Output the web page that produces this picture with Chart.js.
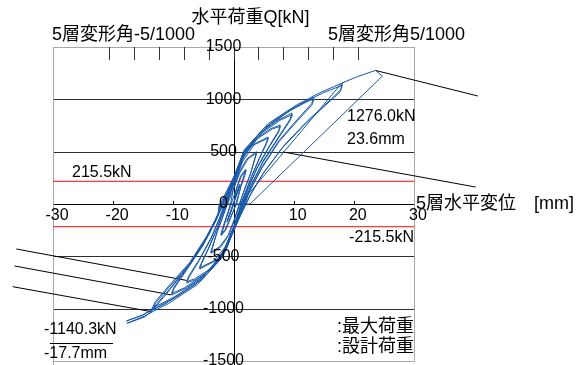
<!DOCTYPE html>
<html>
<head>
<meta charset="utf-8">
<script src="https://cdn.jsdelivr.net/npm/chart.js@4.4.1/dist/chart.umd.min.js"></script>
<style>
  html, body { margin: 0; padding: 0; background: #ffffff; }
  canvas { display: block; }
</style>
</head>
<body>
<canvas id="chart" width="586" height="365"></canvas>
<script>
// Load–displacement record of the 5th storey: [displacement mm, load kN]
const loop1mm = [[0,0],[0.5,110],[1.0,180],[0.7,120],[0.0,0],[-0.5,-90],[-1.0,-160],[-0.7,-100],[0.0,0],
                 [0.6,120],[1.1,190],[0.7,110],[-0.1,0],[-0.6,-100],[-1.1,-170],[-0.6,-90],[0.1,0]];
const loop2mm = [[0.5,150],[1.2,270],[2.0,330],[1.8,285],[1.2,170],[0.4,0],[-0.5,-140],[-1.3,-250],[-2.0,-300],[-1.8,-255],[-1.2,-140],[-0.4,0],
                 [0.5,145],[1.3,265],[2.1,322],[1.9,275],[1.2,160],[0.5,0],[-0.6,-140],[-1.4,-245],[-2.1,-294],[-1.9,-245],[-1.2,-125],[-0.5,0]];
const loop4mm = [[0.0,150],[0.9,300],[2.2,430],[3.8,500],[3.6,450],[2.9,300],[1.9,150],[1.0,0],
                 [0.2,-150],[-0.8,-300],[-2.1,-410],[-3.7,-470],[-3.5,-420],[-2.8,-280],[-1.9,-140],[-1.0,0],
                 [0.1,155],[1.1,305],[2.4,430],[3.9,492],[3.6,438],[2.8,285],[1.8,135],[1.0,0],
                 [0.1,-150],[-0.9,-300],[-2.3,-408],[-3.8,-462],[-3.5,-408],[-2.7,-262],[-1.8,-125],[-1.1,0]];
const loop6mm = [[0.0,200],[1.2,400],[3.0,560],[5.75,640],[5.5,590],[4.3,440],[2.9,250],[1.2,0],
                 [0.2,-200],[-1.0,-400],[-2.9,-540],[-5.6,-620],[-5.3,-570],[-4.1,-420],[-2.7,-230],[-1.2,0],
                 [0.2,205],[1.5,405],[3.4,565],[5.8,630],[5.5,578],[4.2,422],[2.8,232],[1.3,0],
                 [0.1,-205],[-1.3,-405],[-3.3,-545],[-5.7,-610],[-5.3,-558],[-4.0,-402],[-2.6,-212],[-1.3,0]];
const loop8mm = [[0.0,220],[1.4,450],[3.6,620],[6.2,720],[7.75,755],[7.5,700],[6.0,560],[4.0,360],[2.5,160],[1.4,0],
                 [0.2,-220],[-1.3,-450],[-3.6,-620],[-6.2,-720],[-7.75,-755],[-7.4,-700],[-5.8,-550],[-3.8,-340],[-2.4,-150],[-1.4,0],
                 [0.2,225],[1.7,455],[4.0,625],[6.5,718],[7.8,742],[7.5,688],[5.9,540],[3.9,340],[2.4,140],[1.5,0],
                 [0.0,-225],[-1.6,-455],[-4.0,-625],[-6.5,-716],[-7.8,-742],[-7.4,-686],[-5.7,-530],[-3.7,-320],[-2.3,-130],[-1.5,0]];
const loop10mm = [[0.0,230],[1.6,480],[4.2,670],[7.4,800],[9.7,869],[9.4,810],[7.6,650],[5.0,420],[3.0,190],[1.6,0],
                  [0.2,-230],[-1.6,-480],[-4.4,-670],[-7.8,-800],[-10.25,-869],[-9.9,-810],[-7.9,-640],[-5.1,-400],[-3.0,-170],[-1.7,0],
                  [0.2,235],[1.9,485],[4.6,675],[7.8,802],[9.8,855],[9.4,795],[7.5,632],[4.9,400],[2.9,172],[1.7,0],
                  [0.0,-235],[-1.9,-485],[-4.8,-675],[-8.2,-802],[-10.3,-856],[-9.9,-795],[-7.8,-622],[-5.0,-382],[-2.9,-152],[-1.8,0]];
const loop13mm = [[0.0,240],[1.7,500],[5.0,720],[9.0,890],[12.0,980],[13.3,1020],[13.0,960],[10.8,820],[7.6,610],[4.8,360],[2.7,130],[1.8,0],
                  [0.1,-240],[-1.8,-500],[-5.2,-720],[-9.3,-880],[-12.2,-970],[-13.4,-1012],[-13.0,-950],[-10.8,-800],[-7.4,-580],[-4.6,-330],[-2.6,-110],[-1.9,0],
                  [0.2,245],[2.0,505],[5.4,725],[9.4,893],[12.4,982],[13.4,1004],[13.0,942],[10.7,800],[7.5,590],[4.7,340],[2.6,112],[1.9,0],
                  [-0.1,-245],[-2.1,-505],[-5.6,-725],[-9.7,-883],[-12.6,-970],[-13.5,-996],[-13.0,-932],[-10.7,-780],[-7.3,-560],[-4.5,-312],[-2.5,-92],[-2.0,0]];
const loop18mm = [[0.0,250],[1.8,520],[5.8,770],[10.6,950],[14.6,1070],[18.1,1156],[17.8,1090],[16.2,1000],[12.4,800],[8.4,560],[5.0,300],[2.9,100],[2.0,0],
                  [0.1,-250],[-2.0,-520],[-6.0,-770],[-10.8,-950],[-14.8,-1070],[-17.7,-1140.3],[-14.75,-1079],[-13.4,-1012],[-10.6,-820],[-7.0,-560],[-4.2,-300],[-2.6,-100],[-2.2,0],
                  [0.0,255],[2.1,525],[6.2,772],[11.0,950],[15.0,1065],[18.1,1135],[17.7,1068],[15.9,975],[12.1,775],[8.1,535],[4.8,280],[2.8,85],[2.1,0],
                  [-0.1,-255],[-2.3,-525],[-6.4,-772],[-11.2,-948],[-15.2,-1062],[-17.8,-1118],[-15.0,-1060],[-13.2,-985],[-10.3,-790],[-6.8,-535],[-4.0,-280],[-2.5,-85],[-2.4,0]];
const loop24mm = [[1.1,0],[18.0,1155],[20.5,1215],[23.6,1276.0],[24.75,1222],[2.75,0],[1.1,0]];

// Axis ticks
const loadTicks = [1500, 1000, 500, 0, -500, -1000, -1500];
const dispTicks = [-30, -20, -10, 0, 10, 20, 30];
const driftTicks = [-5, -4, -3, -2, -1, 0, 1, 2, 3, 4, 5];   // storey drift, 1/1000 rad
const mmPerDrift = 4.13;                                      // storey height 4130 mm

// Reference loads
const designLoad = 215.5;
const peakPos = [23.6, 1276.0];
const peakNeg = [-17.7, -1140.3];

// Leader lines [x1, y1, x2, y2] in mm / kN
const leaders = [
  [23.6, 1276.0, 40.6, 1032],
  [8.25, 497, 40.25, 162],
  [-36.1, -430, -7.8, -730],
  [-36.4, -592, -10.3, -869],
  [-36.7, -790, -13.6, -1029]
];

const history = [].concat(loop1mm, loop2mm, loop4mm, loop6mm, loop8mm, loop10mm, loop13mm, loop18mm, loop24mm)
  .map(([x, y]) => ({ x, y }));

const LATIN = '"Liberation Sans", Arial, "Noto Sans CJK JP", sans-serif';

const lineSet = (pts, color, width) => ({
  data: pts, showLine: true, borderColor: color, borderWidth: width,
  pointRadius: 0, fill: false, tension: 0, clip: false
});

const datasets = [
  lineSet(history, '#1858a8', 1),
  lineSet([{ x: -30, y: designLoad }, { x: 30, y: designLoad }], '#ff3a3a', 1.3),
  lineSet([{ x: -30, y: -designLoad }, { x: 30, y: -designLoad }], '#ff3a3a', 1.3)
];
leaders.forEach(([x1, y1, x2, y2]) => datasets.push(lineSet([{ x: x1, y: y1 }, { x: x2, y: y2 }], '#000000', 1)));

const frame = {
  id: 'frame',
  beforeDatasetsDraw(chart) {
    const { ctx, chartArea: a, scales: { x, y } } = chart;
    const seg = (x1, y1, x2, y2, c) => {
      ctx.strokeStyle = c; ctx.beginPath(); ctx.moveTo(x1, y1); ctx.lineTo(x2, y2); ctx.stroke();
    };
    ctx.save();
    ctx.lineWidth = 1;
    loadTicks.forEach(v => {
      const py = Math.round(y.getPixelForValue(v)) + 0.5;
      const c = Math.abs(v) === 1500 ? '#a8a8a8' : (v === 0 ? '#000000' : '#2e2e2e');
      seg(a.left, py, a.right, py, c);
    });
    const lx = Math.round(a.left) + 0.5, rx = Math.round(a.right) + 0.5;
    seg(lx, a.top, lx, chart.height, '#a8a8a8');
    seg(rx, a.top, rx, a.bottom + 1, '#a8a8a8');
    const zx = Math.round(x.getPixelForValue(0)) + 0.5;
    seg(zx, a.top, zx, chart.height, '#000000');
    // drift ticks along the top edge
    driftTicks.forEach(d => {
      const px = Math.round(x.getPixelForValue(d * mmPerDrift)) + 0.5;
      seg(px, a.top, px, a.top + 13, '#333333');
    });
    // displacement ticks on the zero-load axis
    const ay = Math.round(y.getPixelForValue(0));
    dispTicks.forEach(v => {
      if (Math.abs(v) === 30 || v === 0) return;
      const px = Math.round(x.getPixelForValue(v)) + 0.5;
      seg(px, ay - 3, px, ay, '#000000');
    });
    ctx.restore();
  },
  afterDatasetsDraw(chart) {
    const { ctx, chartArea: a, scales: { x, y } } = chart;
    const text = (s, px, py, size, align) => {
      ctx.font = size + 'px ' + LATIN;
      ctx.textAlign = align || 'left';
      ctx.textBaseline = 'middle';
      ctx.fillText(s, px, py);
    };
    ctx.save();
    ctx.fillStyle = '#000000';
    const zx = x.getPixelForValue(0);
    loadTicks.forEach(v => text(String(v), zx - 10, y.getPixelForValue(v), 16, 'center'));
    const ay = y.getPixelForValue(0);
    dispTicks.forEach(v => { if (v !== 0) text(String(v), x.getPixelForValue(v) + 4, ay + 12, 16, 'center'); });

    text('水平荷重Q[kN]', zx + 17, 18, 18, 'center');
    text('5層変形角-5/1000', 52, 35, 18);
    text('5層変形角5/1000', 328, 35, 18);
    text('5層水平変位　[mm]', a.right + 2, ay, 18);

    text(designLoad.toFixed(1) + 'kN', 72, y.getPixelForValue(designLoad) - 9, 16);
    text('-' + designLoad.toFixed(1) + 'kN', a.right, y.getPixelForValue(-designLoad) + 11, 16, 'right');

    text(peakPos[1].toFixed(1) + 'kN', 347, 117, 16);
    text(peakPos[0].toFixed(1) + 'mm', 347, 140, 16);
    text(peakNeg[1].toFixed(1) + 'kN', 44, 330, 16);
    text(peakNeg[0].toFixed(1) + 'mm', 44, 354, 16);
    ctx.strokeStyle = '#000000';
    ctx.lineWidth = 1;
    ctx.beginPath(); ctx.moveTo(50, 343.5); ctx.lineTo(113, 343.5); ctx.stroke();

    text(':最大荷重', a.right, 327, 18, 'right');
    text(':設計荷重', a.right, 347, 18, 'right');
    ctx.restore();
  }
};

new Chart(document.getElementById('chart'), {
  type: 'scatter',
  data: { datasets },
  options: {
    responsive: false,
    animation: false,
    devicePixelRatio: 1,
    layout: { padding: { left: 53, right: 172, top: 47, bottom: 4 } },
    plugins: { legend: { display: false }, tooltip: { enabled: false } },
    scales: {
      x: { type: 'linear', min: -30, max: 30, display: false },
      y: { type: 'linear', min: -1500, max: 1500, display: false }
    }
  },
  plugins: [frame]
});
</script>
</body>
</html>
